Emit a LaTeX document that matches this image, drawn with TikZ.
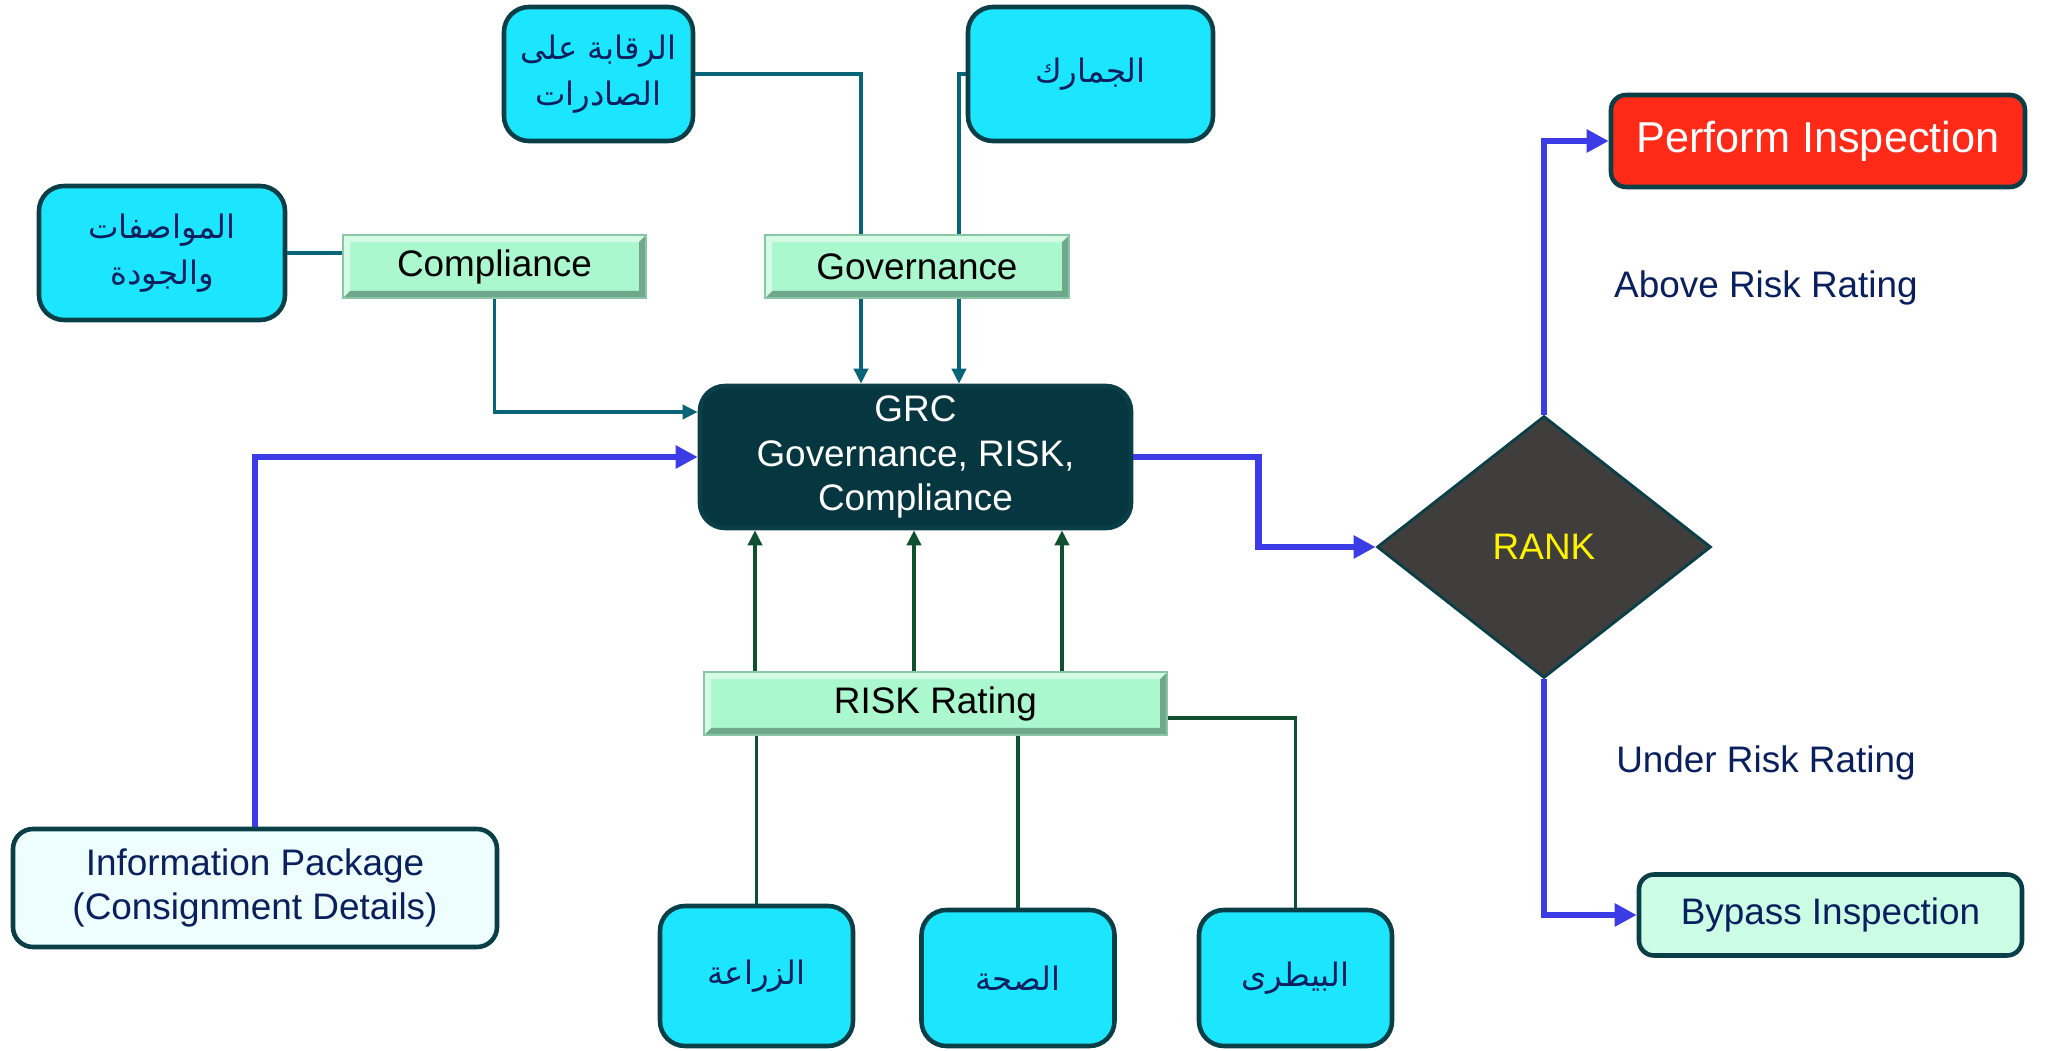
\documentclass[tikz,border=0pt]{standalone}
\usepackage{fontspec}
\setmainfont{Liberation Sans}
\newfontfamily\arabicfont[Script=Arabic]{DejaVu Sans}
\TeXXeTstate=1
\usetikzlibrary{shapes.geometric,arrows.meta}

\definecolor{boxcyan}{HTML}{1CE6FE}
\definecolor{boxedge}{HTML}{0B3F48}
\definecolor{barmint}{HTML}{ABF8CF}
\definecolor{baredge}{HTML}{6FA88A}
\definecolor{grcfill}{HTML}{06363F}
\definecolor{rankfill}{HTML}{3F3E3D}
\definecolor{alarmred}{HTML}{FF2A18}
\definecolor{passmint}{HTML}{CCFEE6}
\definecolor{infofill}{HTML}{EEFEFF}
\definecolor{navytext}{HTML}{0A1F5E}
\definecolor{flowblue}{HTML}{3C3CE6}
\definecolor{tealline}{HTML}{0A6478}
\definecolor{greenline}{HTML}{0F5030}

\begin{document}
\begin{tikzpicture}[
  font=\fontsize{10.5}{12.6}\selectfont,
  dept/.style={draw=boxedge, line width=1.3pt, fill=boxcyan, rounded corners=0.25cm,
    text=navytext, align=center, inner sep=0pt,
    font=\arabicfont\fontsize{9.2}{13}\selectfont},
  bar/.style={draw=barmint!80!black, line width=0.4pt, fill=barmint, minimum height=0.63cm, inner sep=0pt,
    path picture={
      \coordinate (bl) at (path picture bounding box.south west);
      \coordinate (tr) at (path picture bounding box.north east);
      \fill[baredge] (bl) -- (bl -| tr) -- (tr) -- ([shift={(-0.07,-0.07)}]tr)
        -- ([shift={(-0.07,0.07)}]bl -| tr) -- ([shift={(0.07,0.07)}]bl) -- cycle;
      \fill[white, opacity=0.5] (bl) -- (bl |- tr) -- (tr) -- ([shift={(-0.07,-0.07)}]tr)
        -- ([shift={(0.07,-0.07)}]bl |- tr) -- ([shift={(0.07,0.07)}]bl) -- cycle;
    }},
  result/.style={draw=boxedge, line width=1.3pt, rounded corners=0.15cm, inner sep=0pt},
  tealflow/.style={draw=tealline, line width=1pt},
  greenflow/.style={draw=greenline, line width=1pt},
  blueflow/.style={draw=flowblue, line width=1.9pt, -{Triangle[length=0.22cm,width=0.22cm]}},
  tiphead/.style={-{Triangle[length=0.15cm,width=0.14cm]}}
]
\useasboundingbox (0,0) rectangle (20.51,10.5);

\node[dept, minimum width=1.89cm, minimum height=1.34cm] (raqaba) at (5.985,9.76)
  {\beginR الرقابة على\endR\\\beginR الصادرات\endR};
\node[dept, minimum width=2.45cm, minimum height=1.34cm] (jamarik) at (10.905,9.76)
  {\beginR الجمارك\endR};
\node[dept, minimum width=2.46cm, minimum height=1.34cm] (mawasafat) at (1.62,7.97)
  {\beginR المواصفات\endR\\\beginR والجودة\endR};

\node[bar, minimum width=3.03cm] (comp) at (4.945,7.835) {Compliance};
\node[bar, minimum width=3.04cm] (gov) at (9.17,7.835) {Governance};

\node[result, fill=grcfill, text=white, align=center, rounded corners=0.25cm,
  minimum width=4.31cm, minimum height=1.42cm] (grc) at (9.155,5.93)
  {GRC\\Governance, RISK,\\Compliance};

\node[diamond, fill=rankfill, draw=boxedge, line width=0.8pt, inner sep=0pt,
  minimum width=3.34cm, minimum height=2.62cm, text=yellow] (rank) at (15.44,5.03) {RANK};

\node[result, fill=alarmred, text=white, font=\fontsize{12.3}{14}\selectfont,
  minimum width=4.14cm, minimum height=0.92cm] (perform) at (18.18,9.09) {Perform Inspection};
\node[text=navytext] (above) at (17.66,7.62) {Above Risk Rating};
\node[text=navytext] (under) at (17.66,2.87) {Under Risk Rating};
\node[result, fill=passmint, text=navytext,
  minimum width=3.83cm, minimum height=0.81cm] (bypass) at (18.305,1.35) {Bypass Inspection};

\node[bar, minimum width=4.63cm] (risk) at (9.355,3.465) {RISK Rating};

\node[result, fill=infofill, text=navytext, align=center, rounded corners=0.2cm,
  minimum width=4.84cm, minimum height=1.18cm] (info) at (2.55,1.62)
  {Information Package\\(Consignment Details)};

\node[dept, minimum width=1.93cm, minimum height=1.4cm] (ziraa) at (7.565,0.74) {\beginR الزراعة\endR};
\node[dept, minimum width=1.93cm, minimum height=1.36cm] (siha) at (10.18,0.72) {\beginR الصحة\endR};
\node[dept, minimum width=1.93cm, minimum height=1.36cm] (baytari) at (12.955,0.72) {\beginR البيطرى\endR};

\draw[tealflow] (raqaba.east) -| ([xshift=-0.56cm]gov.north);
\draw[tealflow, tiphead] ([xshift=-0.56cm]gov.south) -- ([xshift=-0.56cm]gov.south |- grc.north);
\draw[tealflow] (jamarik.west) -| ([xshift=0.42cm]gov.north);
\draw[tealflow, tiphead] ([xshift=0.42cm]gov.south) -- ([xshift=0.42cm]gov.south |- grc.north);
\draw[tealflow] (mawasafat.east) -- (mawasafat.east -| comp.west);
\draw[tealflow, tiphead] (comp.south) |- ([yshift=0.45cm]grc.west);

\draw[blueflow] (info.north) |- (grc.west);
\draw[blueflow] (grc.east) -- ++(1.25,0) |- (rank.west);
\draw[blueflow] (rank.north) |- (perform.west);
\draw[blueflow] (rank.south) |- (bypass.west);

\foreach \dx in {-1.805,-0.215,1.265}
  \draw[greenflow, tiphead] ([xshift=\dx cm]risk.north) -- ([xshift=\dx cm]risk.north |- grc.south);
\draw[greenflow] (ziraa.north) -- (ziraa.north |- risk.south);
\draw[greenflow] (siha.north) -- (siha.north |- risk.south);
\draw[greenflow] (baytari.north) |- ([yshift=-0.145cm]risk.east);
\end{tikzpicture}
\end{document}
